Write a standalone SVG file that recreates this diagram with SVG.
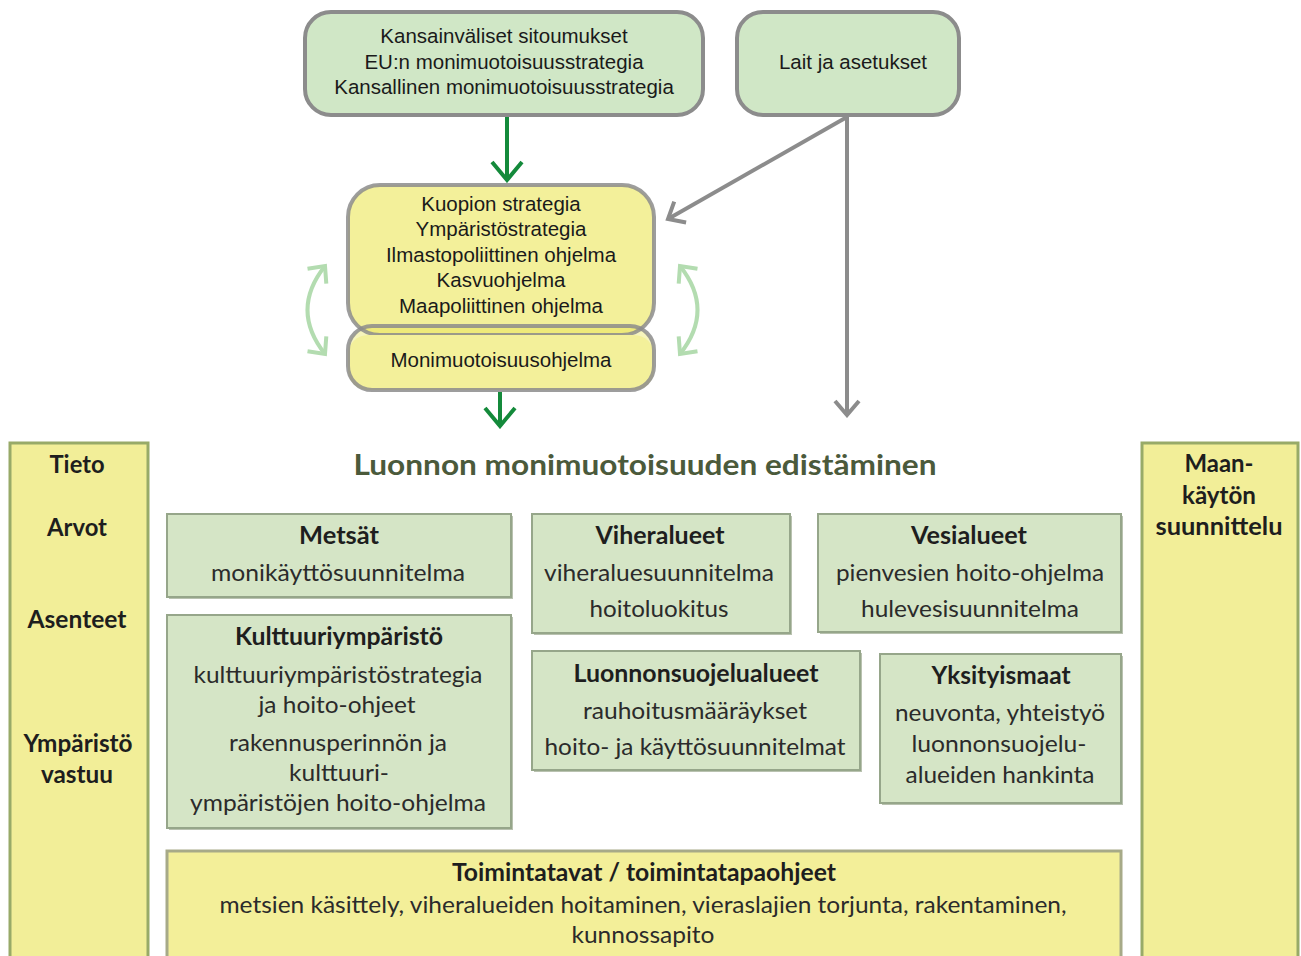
<svg xmlns="http://www.w3.org/2000/svg" width="1301" height="956" viewBox="0 0 1301 956">
<defs>
<style>
.top{font-family:"Liberation Sans",Arial,sans-serif;font-size:20.5px;fill:#1a1a1a;text-anchor:middle}
.lb{font-family:Lato,"Open Sans",sans-serif;font-size:24px;fill:#2b2b2b;text-anchor:middle}
.hd{font-weight:700;fill:#1e1e1e}
.gbox{fill:#d0e7c6;stroke:#8c8c8c;stroke-width:4}
.ybox{fill:#f3f09a;stroke:#8c8c8c;stroke-width:4}
.lg{fill:#d5e5c6;stroke:#96a68a;stroke-width:2}
.col{fill:#f2ee98;stroke:#98aa68;stroke-width:3}
.shadow{fill:#b9c2b0}
</style>
<marker id="mGreen" viewBox="0 0 24 36" refX="21" refY="18" markerWidth="24" markerHeight="36" markerUnits="userSpaceOnUse" orient="auto">
<path d="M3,3 L21,18 L3,33" fill="none" stroke="#148a3b" stroke-width="4"/>
</marker>
<marker id="mGray" viewBox="0 0 20 30" refX="17" refY="15" markerWidth="20" markerHeight="30" markerUnits="userSpaceOnUse" orient="auto">
<path d="M3,3 L17,15 L3,27" fill="none" stroke="#8c8c8c" stroke-width="4"/>
</marker>
<marker id="mLight" viewBox="0 0 20 30" refX="16" refY="15" markerWidth="20" markerHeight="30" markerUnits="userSpaceOnUse" orient="auto-start-reverse">
<path d="M3,3 L16,15 L3,27" fill="none" stroke="#b3dcb0" stroke-width="4"/>
</marker>
</defs>
<rect width="1301" height="956" fill="#ffffff"/>

<g id="connectors">
<line x1="507" y1="117" x2="507" y2="180" stroke="#148a3b" stroke-width="4" marker-end="url(#mGreen)"/>
<line x1="500" y1="392" x2="500" y2="426" stroke="#148a3b" stroke-width="4" marker-end="url(#mGreen)"/>
<line x1="847" y1="117" x2="668" y2="219" stroke="#8c8c8c" stroke-width="4" marker-end="url(#mGray)"/>
<line x1="847" y1="117" x2="847" y2="415" stroke="#8c8c8c" stroke-width="4" marker-end="url(#mGray)"/>
<path d="M325,266 Q290,310 325,354" fill="none" stroke="#b3dcb0" stroke-width="4" marker-start="url(#mLight)" marker-end="url(#mLight)"/>
<path d="M680,266 Q715,310 680,354" fill="none" stroke="#b3dcb0" stroke-width="4" marker-start="url(#mLight)" marker-end="url(#mLight)"/>
</g>

<g id="n-kansainvaliset">
<rect class="gbox" x="305" y="12" width="398" height="103" rx="26"/>
<text class="top" x="504" y="43">Kansainväliset sitoumukset</text>
<text class="top" x="504" y="69">EU:n monimuotoisuusstrategia</text>
<text class="top" x="504" y="94">Kansallinen monimuotoisuusstrategia</text>
</g>

<g id="n-lait">
<rect class="gbox" x="737" y="12" width="222" height="103" rx="26"/>
<text class="top" x="853" y="69">Lait ja asetukset</text>
</g>

<g id="n-kuopio">
<rect x="348" y="185" width="306" height="150" rx="32" fill="#f3f09a"/>
<rect x="348" y="326" width="306" height="64" rx="24" fill="#e6df3e" fill-opacity="0.35"/>
<rect x="348" y="185" width="306" height="150" rx="32" fill="none" stroke="#8c8c8c" stroke-width="4" stroke-opacity="0.85"/>
<text class="top" x="501" y="211">Kuopion strategia</text>
<text class="top" x="501" y="236">Ympäristöstrategia</text>
<text class="top" x="501" y="262">Ilmastopoliittinen ohjelma</text>
<text class="top" x="501" y="287">Kasvuohjelma</text>
<text class="top" x="501" y="313">Maapoliittinen ohjelma</text>
</g>

<g id="n-monimuotoisuusohjelma">
<rect x="348" y="335" width="306" height="55" rx="20" fill="#f3f09a"/>
<rect x="348" y="326" width="306" height="64" rx="24" fill="none" stroke="#8c8c8c" stroke-width="4" stroke-opacity="0.85"/>
<text class="top" x="501" y="367">Monimuotoisuusohjelma</text>
</g>

<g id="n-left">
<rect class="col" x="10" y="443" width="138" height="520"/>
<text class="lb hd" x="77" y="473" textLength="55" lengthAdjust="spacingAndGlyphs">Tieto</text>
<text class="lb hd" x="77" y="536" textLength="60" lengthAdjust="spacingAndGlyphs">Arvot</text>
<text class="lb hd" x="77" y="628" textLength="99" lengthAdjust="spacingAndGlyphs">Asenteet</text>
<text class="lb hd" x="78" y="752" textLength="109" lengthAdjust="spacingAndGlyphs">Ympäristö</text>
<text class="lb hd" x="77" y="783" textLength="72" lengthAdjust="spacingAndGlyphs">vastuu</text>
</g>

<g id="n-right">
<rect class="col" x="1142" y="443" width="156" height="520"/>
<text class="lb hd" x="1219" y="472" textLength="69" lengthAdjust="spacingAndGlyphs">Maan-</text>
<text class="lb hd" x="1219" y="504" textLength="74" lengthAdjust="spacingAndGlyphs">käytön</text>
<text class="lb hd" x="1219" y="535" textLength="127" lengthAdjust="spacingAndGlyphs">suunnittelu</text>
</g>

<g id="n-title">
<text class="lb" x="645" y="475" style="font-size:28px;font-weight:700;fill:#4b5a3b" textLength="583" lengthAdjust="spacingAndGlyphs">Luonnon monimuotoisuuden edistäminen</text>
</g>

<g id="n-metsat">
<rect class="shadow" x="169" y="516" width="344" height="83"/>
<rect class="lg" x="167" y="514" width="344" height="83"/>
<text class="lb hd" x="339" y="544" textLength="80" lengthAdjust="spacingAndGlyphs">Metsät</text>
<text class="lb" x="338" y="581" textLength="254" lengthAdjust="spacingAndGlyphs">monikäyttösuunnitelma</text>
</g>

<g id="n-viheralueet">
<rect class="shadow" x="534" y="516" width="258" height="119"/>
<rect class="lg" x="532" y="514" width="258" height="119"/>
<text class="lb hd" x="660" y="544" textLength="129" lengthAdjust="spacingAndGlyphs">Viheralueet</text>
<text class="lb" x="659" y="581" textLength="230" lengthAdjust="spacingAndGlyphs">viheraluesuunnitelma</text>
<text class="lb" x="659" y="617" textLength="139" lengthAdjust="spacingAndGlyphs">hoitoluokitus</text>
</g>

<g id="n-vesialueet">
<rect class="shadow" x="820" y="516" width="303" height="118"/>
<rect class="lg" x="818" y="514" width="303" height="118"/>
<text class="lb hd" x="969" y="544" textLength="116" lengthAdjust="spacingAndGlyphs">Vesialueet</text>
<text class="lb" x="970" y="581" textLength="268" lengthAdjust="spacingAndGlyphs">pienvesien hoito-ohjelma</text>
<text class="lb" x="970" y="617" textLength="218" lengthAdjust="spacingAndGlyphs">hulevesisuunnitelma</text>
</g>

<g id="n-kulttuuri">
<rect class="shadow" x="169" y="617" width="344" height="213"/>
<rect class="lg" x="167" y="615" width="344" height="213"/>
<text class="lb hd" x="339" y="645" textLength="208" lengthAdjust="spacingAndGlyphs">Kulttuuriympäristö</text>
<text class="lb" x="338" y="683" textLength="289" lengthAdjust="spacingAndGlyphs">kulttuuriympäristöstrategia</text>
<text class="lb" x="337" y="713" textLength="157" lengthAdjust="spacingAndGlyphs">ja hoito-ohjeet</text>
<text class="lb" x="338" y="751" textLength="218" lengthAdjust="spacingAndGlyphs">rakennusperinnön ja</text>
<text class="lb" x="339" y="781" textLength="100" lengthAdjust="spacingAndGlyphs">kulttuuri-</text>
<text class="lb" x="338" y="811" textLength="296" lengthAdjust="spacingAndGlyphs">ympäristöjen hoito-ohjelma</text>
</g>

<g id="n-luonnonsuojelualueet">
<rect class="shadow" x="534" y="653" width="328" height="119"/>
<rect class="lg" x="532" y="651" width="328" height="119"/>
<text class="lb hd" x="696" y="682" textLength="245" lengthAdjust="spacingAndGlyphs">Luonnonsuojelualueet</text>
<text class="lb" x="695" y="719" textLength="224" lengthAdjust="spacingAndGlyphs">rauhoitusmääräykset</text>
<text class="lb" x="695" y="755" textLength="301" lengthAdjust="spacingAndGlyphs">hoito- ja käyttösuunnitelmat</text>
</g>

<g id="n-yksityismaat">
<rect class="shadow" x="882" y="656" width="241" height="149"/>
<rect class="lg" x="880" y="654" width="241" height="149"/>
<text class="lb hd" x="1001" y="684" textLength="139" lengthAdjust="spacingAndGlyphs">Yksityismaat</text>
<text class="lb" x="1000" y="721" textLength="210" lengthAdjust="spacingAndGlyphs">neuvonta, yhteistyö</text>
<text class="lb" x="999" y="752" textLength="175" lengthAdjust="spacingAndGlyphs">luonnonsuojelu-</text>
<text class="lb" x="1000" y="783" textLength="189" lengthAdjust="spacingAndGlyphs">alueiden hankinta</text>
</g>

<g id="n-toimintatavat">
<rect x="167" y="851" width="954" height="120" fill="#f3ef99" stroke="#a7aa88" stroke-width="3"/>
<text class="lb hd" x="644" y="881" textLength="384" lengthAdjust="spacingAndGlyphs">Toimintatavat / toimintatapaohjeet</text>
<text class="lb" x="643" y="913" textLength="847" lengthAdjust="spacingAndGlyphs">metsien käsittely, viheralueiden hoitaminen, vieraslajien torjunta, rakentaminen,</text>
<text class="lb" x="643" y="943" textLength="143" lengthAdjust="spacingAndGlyphs">kunnossapito</text>
</g>
</svg>
